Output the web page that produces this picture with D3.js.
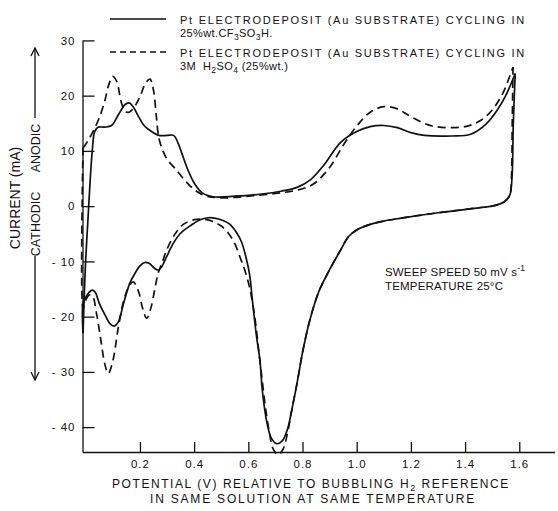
<!DOCTYPE html>
<html><head><meta charset="utf-8">
<script src="https://cdnjs.cloudflare.com/ajax/libs/d3/7.8.5/d3.min.js"></script>
<style>
html,body{margin:0;padding:0;background:#fff;}
text{font-family:"Liberation Sans",Arial,sans-serif;fill:#111;}
</style></head>
<body><svg id="c" width="558" height="511"></svg>
<script>
// ---- data: [potential V, current mA] ----
const solidAnodic = [[-0.01,-23],[-0.002,-11.6],[0.008,-2.5],[0.024,10],[0.033,13.5],[0.045,14.3],[0.07,14.3],[0.095,14.6],[0.12,16.5],[0.145,18.4],[0.16,18.7],[0.175,18],[0.195,16.2],[0.215,14.6],[0.24,13.6],[0.27,12.8],[0.3,12.8],[0.325,12.8],[0.34,11.5],[0.355,9.5],[0.375,6.8],[0.4,4.2],[0.43,2.4],[0.47,1.7],[0.55,1.8],[0.65,2.2],[0.72,2.7],[0.78,3.4],[0.83,4.8],[0.88,7.5],[0.94,11.5],[1.0,13.5],[1.05,14.4],[1.1,14.6],[1.15,14.2],[1.2,13.3],[1.25,12.8],[1.35,12.7],[1.42,13.0],[1.48,15],[1.52,17.5],[1.55,20],[1.585,24]];
const solidCathodic = [[1.585,24],[1.578,15],[1.573,5],[1.565,2],[1.545,0.8],[1.5,0],[1.45,-0.3],[1.3,-1.2],[1.16,-2.2],[1.1,-2.7],[1.05,-3.3],[1.0,-4.3],[0.97,-5.5],[0.94,-8],[0.9,-11.5],[0.86,-15.5],[0.825,-21],[0.8,-26.5],[0.78,-32],[0.76,-37],[0.745,-40.3],[0.725,-42.5],[0.705,-43],[0.685,-42],[0.668,-39],[0.652,-33.5],[0.643,-28],[0.63,-23.5],[0.615,-17],[0.605,-12.5],[0.594,-9.8],[0.575,-6.5],[0.557,-4.8],[0.53,-3.2],[0.507,-2.6],[0.48,-2.2],[0.452,-2.1],[0.42,-2.5],[0.39,-3.4],[0.348,-5],[0.32,-7],[0.298,-9.2],[0.28,-11],[0.268,-11.6],[0.255,-11.3],[0.235,-10.4],[0.218,-10.2],[0.2,-10.8],[0.18,-12.3],[0.163,-13.9],[0.14,-17.5],[0.12,-21],[0.105,-21.7],[0.09,-21.3],[0.07,-19.6],[0.05,-17.6],[0.035,-15.6],[0.025,-15.2],[0.012,-15.6],[0.0,-16.5],[-0.01,-17.5],[-0.01,-23]];
const dashedAnodic = [[-0.01,10.5],[0.01,12],[0.03,13.8],[0.05,16],[0.07,19],[0.085,22],[0.1,23.5],[0.115,22.5],[0.13,19],[0.145,17.2],[0.16,17],[0.18,18],[0.2,19.8],[0.22,22.2],[0.237,23],[0.25,21],[0.26,16.5],[0.27,12.3],[0.285,10],[0.3,8.5],[0.33,6.8],[0.36,5],[0.4,3],[0.44,1.9],[0.5,1.5],[0.6,1.8],[0.7,2.3],[0.78,2.9],[0.84,4],[0.9,7],[0.95,11],[1.0,14.5],[1.05,17],[1.1,18],[1.15,17.6],[1.2,16.2],[1.28,14.5],[1.4,14.4],[1.46,15.6],[1.5,17.4],[1.54,20.5],[1.577,25.2]];
const dashedCathodic = [[1.577,25.2],[1.574,15],[1.571,5],[1.565,2],[1.545,0.8],[1.5,0],[1.45,-0.3],[1.3,-1.2],[1.16,-2.2],[1.1,-2.7],[1.05,-3.3],[1.0,-4.3],[0.97,-5.5],[0.94,-8],[0.9,-11.5],[0.86,-15.5],[0.825,-21],[0.8,-26.5],[0.78,-32],[0.76,-37],[0.745,-41],[0.728,-44],[0.71,-45],[0.692,-44],[0.676,-40.5],[0.662,-36],[0.65,-31],[0.638,-26],[0.625,-20.5],[0.605,-14.8],[0.585,-11.3],[0.569,-9.2],[0.55,-6.8],[0.525,-4.8],[0.5,-3.6],[0.47,-2.8],[0.44,-2.4],[0.41,-2.4],[0.384,-2.7],[0.36,-3.3],[0.33,-5],[0.298,-8],[0.28,-10.5],[0.268,-12],[0.255,-15],[0.24,-18.5],[0.225,-20.3],[0.21,-18.5],[0.195,-15.5],[0.175,-13.7],[0.155,-15],[0.138,-17.5],[0.12,-22],[0.1,-28],[0.083,-30.3],[0.07,-28.5],[0.055,-24],[0.04,-19.5],[0.025,-16.3],[0.012,-16.1],[0.0,-17],[-0.01,-18.5],[-0.01,10.5]];
const yTicks = [30,20,10,0,-10,-20,-30,-40];
const xTicks = [0.2,0.4,0.6,0.8,1.0,1.2,1.4,1.6];
const legendLines = ["Pt ELECTRODEPOSIT (Au SUBSTRATE) CYCLING IN","Pt ELECTRODEPOSIT (Au SUBSTRATE) CYCLING IN"];

const svg = d3.select("#c");
svg.append("rect").attr("width",558).attr("height",511).attr("fill","#fff");

function fit(sel, w){
  const n = sel.node();
  const L = n.getComputedTextLength();
  const c = n.getNumberOfChars();
  sel.attr("letter-spacing", Math.max(0, (w - L) / c).toFixed(2));
}

const x = d3.scaleLinear().domain([-0.012,1.73]).range([82.5,554.5]);
const y = d3.scaleLinear().domain([-44.5,30]).range([452,40.4]);

// axes
const yAxis = d3.axisLeft(y).tickValues(yTicks).tickSizeInner(-12).tickSizeOuter(0).tickPadding(7)
  .tickFormat(d=>d<0?"- "+Math.abs(d):String(d));
const gy = svg.append("g").attr("transform",`translate(${x(-0.012)},0)`).call(yAxis);
const xAxis = d3.axisBottom(x).tickValues(xTicks).tickSizeInner(-10).tickSizeOuter(0).tickPadding(8)
  .tickFormat(d3.format(".1f"));
const gx = svg.append("g").attr("transform",`translate(0,${y(-44.5)})`).call(xAxis);
[gx,gy].forEach(g=>{
  g.selectAll("path,line").attr("stroke","#111").attr("stroke-width",1.3);
  g.selectAll("text").attr("font-family","Liberation Sans, Arial, sans-serif").attr("font-size",11.5).attr("fill","#111").attr("letter-spacing",1);
});

// curves
const line = d3.line().x(d=>x(d[0])).y(d=>y(d[1])).curve(d3.curveCatmullRom.alpha(0.5));
[solidAnodic,solidCathodic].forEach(s=>svg.append("path").attr("d",line(s)).attr("fill","none").attr("stroke","#111").attr("stroke-width",1.7));
[dashedAnodic,dashedCathodic].forEach(s=>svg.append("path").attr("d",line(s)).attr("fill","none").attr("stroke","#111").attr("stroke-width",1.7).attr("stroke-dasharray","8,5"));

// legend
svg.append("line").attr("x1",110).attr("x2",166).attr("y1",19).attr("y2",19).attr("stroke","#111").attr("stroke-width",1.4);
svg.append("line").attr("x1",110).attr("x2",166).attr("y1",52).attr("y2",52).attr("stroke","#111").attr("stroke-width",1.4).attr("stroke-dasharray","6,4");
const lg = svg.append("g").attr("font-size",11);
const t1 = lg.append("text").attr("x",180).attr("y",23.5).text(legendLines[0]);
fit(t1, 346);
const t2 = lg.append("text").attr("x",180).attr("y",36.5).attr("letter-spacing",0.4);
t2.append("tspan").text("25%wt.CF");
t2.append("tspan").attr("dy",3).attr("font-size",8.5).text("3");
t2.append("tspan").attr("dy",-3).text("SO");
t2.append("tspan").attr("dy",3).attr("font-size",8.5).text("3");
t2.append("tspan").attr("dy",-3).text("H.");
const t3 = lg.append("text").attr("x",180).attr("y",56.5).text(legendLines[1]);
fit(t3, 346);
const t4 = lg.append("text").attr("x",180).attr("y",69.5).attr("xml:space","preserve").attr("letter-spacing",0.4);
t4.append("tspan").text("3M  H");
t4.append("tspan").attr("dy",3).attr("font-size",8.5).text("2");
t4.append("tspan").attr("dy",-3).text("SO");
t4.append("tspan").attr("dy",3).attr("font-size",8.5).text("4");
t4.append("tspan").attr("dy",-3).text(" (25%wt.)");

// sweep note
const sn = svg.append("g").attr("font-size",11.5);
const s1 = sn.append("text").attr("x",385).attr("y",276);
s1.append("tspan").text("SWEEP SPEED 50 mV  s");
s1.append("tspan").attr("dy",-5).attr("font-size",8.5).text("-1");
fit(s1, 140);
sn.append("text").attr("x",385).attr("y",290).attr("letter-spacing",0.2).text("TEMPERATURE 25°C");

// x axis title
const xt = svg.append("g").attr("font-size",12);
const xt1 = xt.append("text").attr("x",112).attr("y",487.5);
xt1.append("tspan").text("POTENTIAL (V) RELATIVE TO BUBBLING H");
xt1.append("tspan").attr("dy",3).attr("font-size",9).text("2");
xt1.append("tspan").attr("dy",-3).text(" REFERENCE");
fit(xt1, 398);
const xt2 = xt.append("text").attr("x",150).attr("y",503).text("IN SAME SOLUTION AT SAME TEMPERATURE");
fit(xt2, 326);

// y axis titles
svg.append("text").attr("transform","translate(20,198) rotate(-90)").attr("text-anchor","middle").attr("font-size",14).text("CURRENT (mA)");
svg.append("text").attr("transform","translate(40,148) rotate(-90)").attr("text-anchor","middle").attr("font-size",12.5).text("ANODIC");
svg.append("text").attr("transform","translate(40,224) rotate(-90)").attr("text-anchor","middle").attr("font-size",12.5).text("CATHODIC");
// arrows
const ar = svg.append("g").attr("stroke","#111").attr("stroke-width",1.3).attr("fill","none");
ar.append("line").attr("x1",35).attr("x2",35).attr("y1",48).attr("y2",118);
ar.append("path").attr("d","M31,56 L35,48 L39,56");
ar.append("line").attr("x1",35).attr("x2",35).attr("y1",256).attr("y2",380);
ar.append("path").attr("d","M31,372 L35,380 L39,372");
</script></body></html>
